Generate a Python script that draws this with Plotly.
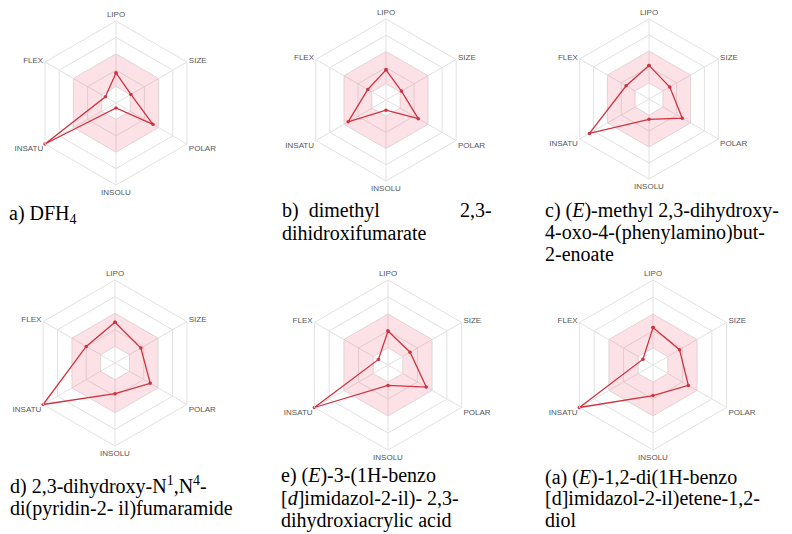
import plotly.graph_objects as go

# page body has an 8px margin, so the figure is drawn offset by (8, 8)
OFF = 8
W, H = 792 - OFF, 534 - OFF

categories = ["LIPO", "SIZE", "POLAR", "INSOLU", "INSATU", "FLEX"]

values_a = [1.83, 1.05, 2.6, 0.3, 5.0, 0.75]
values_b = [1.86, 1.1, 2.3, 0.63, 2.7, 1.3]
values_c = [2.1, 1.5, 2.4, 1.27, 4.3, 1.65]
values_d = [2.45, 1.8, 2.45, 1.85, 5.0, 2.0]
values_e = [2.0, 1.5, 2.6, 1.2, 5.0, 0.65]
values_f = [2.2, 1.8, 2.4, 1.8, 5.0, 0.68]

optimal_low = 1
optimal_high = 3
radial_max = 5

series = [values_a, values_b, values_c, values_d, values_e, values_f]

# chart centres (page pixels) and radii
centers = [(116, 103), (386, 100), (649, 99), (115, 363), (388, 365), (653, 365)]
radii = [82, 81, 80, 83, 85, 85]

captions = [
    [(7, 214, "a) DFH<sub>4</sub>", "left")],
    [(280, 210, "b)  dimethyl", "left"), (494, 210, "2,3-", "right"),
     (280, 233, "dihidroxifumarate", "left")],
    [(543, 210, "c) (<i>E</i>)-methyl 2,3-dihydroxy-", "left"),
     (543, 232, "4-oxo-4-(phenylamino)but-", "left"),
     (543, 254, "2-enoate", "left")],
    [(8, 485, "d) 2,3-dihydroxy-N<sup>1</sup>,N<sup>4</sup>-", "left"),
     (8, 508, "di(pyridin-2- il)fumaramide", "left")],
    [(279, 476, "e) (<i>E</i>)-3-(1H-benzo", "left"),
     (279, 498, "[<i>d</i>]imidazol-2-il)- 2,3-", "left"),
     (279, 520, "dihydroxiacrylic acid", "left")],
    [(543, 477, "(a) (<i>E</i>)-1,2-di(1H-benzo", "left"),
     (543, 498, "[d]imidazol-2-il)etene-1,2-", "left"),
     (543, 520, "diol", "left")],
]

fig = go.Figure()
layout = dict(width=W, height=H, margin=dict(l=0, r=0, t=0, b=0),
              paper_bgcolor="white", plot_bgcolor="white", showlegend=False)

grid_col = "#e2e2e2"
line_col = "rgb(208,50,62)"
band_col = "rgba(236,92,124,0.18)"
serif = "Liberation Serif, Times New Roman, Times, serif"


def px_x(x):
    return (x - OFF) / W


def px_y(y):
    return 1 - (y - OFF) / H


annotations = []
for i, vals in enumerate(series):
    pid = "polar" if i == 0 else f"polar{i+1}"
    cx, cy = centers[i]
    R = radii[i]
    band_theta = categories + [categories[0]] + [categories[0]] + categories[::-1]
    band_r = [optimal_high] * 7 + [optimal_low] * 7
    fig.add_trace(go.Scatterpolar(
        r=band_r, theta=band_theta, subplot=pid, mode="lines",
        line=dict(width=0), fill="toself", fillcolor=band_col, hoverinfo="skip"))
    fig.add_trace(go.Scatterpolar(
        r=vals + [vals[0]], theta=categories + [categories[0]], subplot=pid,
        mode="lines+markers", line=dict(color=line_col, width=1.3),
        marker=dict(color=line_col, size=3.5)))
    layout[pid] = dict(
        domain=dict(x=[px_x(cx - R), px_x(cx + R)],
                    y=[px_y(cy + R), px_y(cy - R)]),
        gridshape="linear",
        bgcolor="white",
        radialaxis=dict(range=[0, radial_max], tickvals=[1, 2, 3, 4, 5],
                        showticklabels=False, showline=False, ticks="",
                        gridcolor=grid_col, gridwidth=1),
        angularaxis=dict(categoryorder="array", categoryarray=categories,
                         rotation=90, direction="clockwise",
                         tickfont=dict(family="Liberation Sans, Arial, sans-serif",
                                       size=8, color="#555"),
                         ticks="", showline=True, linecolor=grid_col, linewidth=1,
                         gridcolor=grid_col, gridwidth=1),
    )
    for (px, py, txt, anchor) in captions[i]:
        annotations.append(dict(
            x=px_x(px), y=px_y(py), xref="paper", yref="paper",
            xanchor=anchor, yanchor="middle", showarrow=False, text=txt,
            font=dict(family=serif, size=20, color="black")))

layout["annotations"] = annotations
fig.update_layout(**layout)
fig.write_html("out.html")
